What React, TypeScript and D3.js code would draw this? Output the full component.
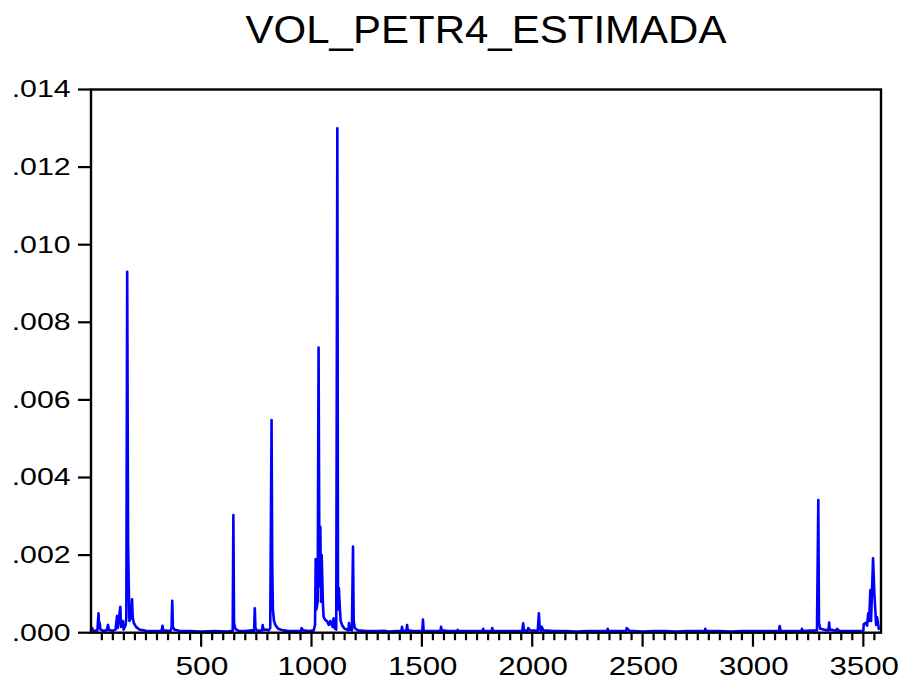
import React from "react";
import * as d3 from "d3";

const TITLE = "VOL_PETR4_ESTIMADA";
const N_OBS = 3580;

const obsIndex: number[] = [
  1, 6, 12, 30, 35, 38, 40, 44, 55, 72, 78, 82, 100, 112, 119, 122, 134, 137, 145, 149,
  158, 161, 165, 169, 172, 175, 183, 187, 190, 195, 205, 220, 250, 300, 320, 325, 328, 360, 366, 369,
  372, 378, 400, 450, 500, 560, 620, 643, 646, 649, 655, 670, 700, 730, 740, 743, 746, 752, 760, 776,
  779, 782, 795, 806, 813, 819, 822, 825, 830, 838, 850, 870, 900, 940, 952, 955, 962, 990, 1010, 1016, 1019,
  1022, 1028, 1032, 1036, 1040, 1043, 1046, 1052, 1055, 1062, 1070, 1078, 1085, 1095, 1100, 1104, 1112, 1117, 1120, 1124,
  1128, 1132, 1140, 1150, 1160, 1167, 1170, 1174, 1183, 1188, 1191, 1196, 1210, 1250, 1300, 1330, 1350, 1380, 1407, 1410, 1413,
  1430, 1433, 1436, 1460, 1502, 1505, 1508, 1540, 1584, 1587, 1590, 1620, 1659, 1662, 1665, 1700, 1740, 1775, 1778, 1781,
  1800, 1816, 1819, 1822, 1830, 1900, 1955, 1959, 1962, 1979, 1982, 1990, 2025, 2030, 2034, 2040, 2043, 2050, 2100, 2150,
  2200, 2250, 2300, 2339, 2342, 2345, 2360, 2420, 2425, 2428, 2440, 2500, 2550, 2600, 2650, 2700, 2781, 2784, 2787, 2800,
  2850, 2900, 2950, 3000, 3050, 3110, 3118, 3121, 3125, 3180, 3219, 3222, 3225, 3240, 3290, 3296, 3299, 3305, 3320, 3342,
  3345, 3348, 3378, 3381, 3390, 3450, 3500, 3502, 3513, 3517, 3522, 3526, 3532, 3535, 3544, 3550, 3558, 3562, 3570, 3573,
];

const volValues: number[] = [
  0.00005, 0.00012, 0.00004, 0.00006, 0.0005, 0.00012, 0.00026, 0.00008, 0.00005, 0.00006, 0.0002, 0.00007, 0.00005, 0.00008, 0.00043, 0.00012, 0.00067, 0.00015, 0.0003, 0.00008,
  0.0002, 0.0004, 0.0093, 0.0023, 0.0012, 0.0003, 0.0004, 0.00086, 0.0004, 0.00025, 0.00015, 0.00008, 0.00005, 0.00004, 0.00004, 0.00018, 0.00006, 0.00004, 0.00012, 0.00082,
  0.00015, 0.00008, 0.00005, 0.00004, 0.00003, 0.00004, 0.00003, 0.00005, 0.00303, 0.00025, 0.0001, 0.00005, 0.00004, 0.00006, 0.00005, 0.00063, 0.00012, 0.00006, 0.00005, 0.00006,
  0.0002, 0.00007, 0.00008, 0.00006, 0.00012, 0.00548, 0.0018, 0.0006, 0.0003, 0.00018, 0.0001, 0.00006, 0.00004, 0.00004, 0.00004, 0.00012, 0.00006, 0.00004, 0.00006, 0.0002, 0.0019,
  0.0006, 0.0008, 0.00735, 0.0012, 0.00273, 0.0008, 0.002, 0.00071, 0.0004, 0.00033, 0.0003, 0.0002, 0.0003, 0.00015, 0.00037, 0.00012, 0.00008, 0.013, 0.0006, 0.00115,
  0.00067, 0.0003, 0.00018, 0.0001, 0.00008, 0.00006, 0.00025, 0.00008, 0.00006, 0.00222, 0.0003, 0.00012, 0.00006, 0.00004, 0.00004, 0.00005, 0.00003, 0.00004, 0.00004, 0.00015, 0.00005,
  0.00005, 0.0002, 0.00006, 0.00004, 0.00004, 0.00034, 0.00005, 0.00004, 0.00004, 0.00015, 0.00006, 0.00004, 0.00004, 0.00007, 0.00004, 0.00004, 0.00004, 0.00004, 0.0001, 0.00004,
  0.00004, 0.00004, 0.00012, 0.00004, 0.00004, 0.00004, 0.00005, 0.00024, 0.00006, 0.00005, 0.00012, 0.00006, 0.00005, 0.0005, 0.0001, 0.00005, 0.00015, 0.00006, 0.00004, 0.00004,
  0.00003, 0.00004, 0.00004, 0.00004, 0.0001, 0.00004, 0.00004, 0.00004, 0.00004, 0.00012, 0.00005, 0.00003, 0.00004, 0.00004, 0.00003, 0.00004, 0.00004, 0.0001, 0.00004, 0.00004,
  0.00004, 0.00003, 0.00004, 0.00004, 0.00004, 0.00004, 0.00004, 0.00017, 0.00005, 0.00004, 0.00004, 0.0001, 0.00004, 0.00005, 0.00006, 0.00342, 0.00025, 0.0001, 0.00008, 0.00006,
  0.00026, 0.00008, 0.00005, 0.0001, 0.00005, 0.00004, 0.00005, 0.00022, 0.00026, 0.00018, 0.0005, 0.0003, 0.0011, 0.0003, 0.00192, 0.001, 0.0002, 0.0004, 0.0001, 0.00008,
];

const yTicks: number[] = [0, 0.002, 0.004, 0.006, 0.008, 0.01, 0.012, 0.014];
const yTickLabels: string[] = [".000", ".002", ".004", ".006", ".008", ".010", ".012", ".014"];
const xMajorTicks: number[] = [500, 1000, 1500, 2000, 2500, 3000, 3500];
const xMinorStep = 50;

export default function App() {
  const W = 903;
  const H = 682;
  const left = 91;
  const right = 881;
  const top = 89.5;
  const bottom = 632.7;

  const x = d3.scaleLinear().domain([1, N_OBS]).range([left, right]);
  const y = d3.scaleLinear().domain([0, 0.014]).range([bottom, top]);

  const pts: [number, number][] = obsIndex.map((d, i) => [d, volValues[i]]);
  const line = d3
    .line<[number, number]>()
    .x((d) => x(d[0]))
    .y((d) => y(d[1]));

  const minorTicks = d3.range(xMinorStep, N_OBS, xMinorStep).filter((t) => t % 500 !== 0);

  const font = "'Liberation Sans', Arial, sans-serif";

  return (
    <svg
      width={W}
      height={H}
      viewBox={`0 0 ${W} ${H}`}
      style={{ position: "absolute", left: 0, top: 0, background: "#fff" }}
    >
      <rect x={0} y={0} width={W} height={H} fill="#fff" />
      <text
        x={(left + right) / 2}
        y={43.3}
        textAnchor="middle"
        fontFamily={font}
        fontSize={39.5}
        textLength={481}
        lengthAdjust="spacingAndGlyphs"
        fill="#000"
      >
        {TITLE}
      </text>

      <clipPath id="plotclip">
        <rect x={left} y={top - 2} width={right - left} height={bottom - top + 2} />
      </clipPath>
      <path
        d={line(pts) || ""}
        fill="none"
        stroke="#0000FF"
        strokeWidth={2.6}
        strokeLinejoin="round"
        clipPath="url(#plotclip)"
      />

      <rect
        x={left}
        y={top}
        width={right - left}
        height={bottom - top}
        fill="none"
        stroke="#000"
        strokeWidth={2.4}
      />

      {yTicks.map((t, i) => (
        <g key={`y${i}`}>
          <line x1={left - 13} x2={left} y1={y(t)} y2={y(t)} stroke="#000" strokeWidth={2.2} />
          <text
            x={70.7}
            y={y(t) + 7.8}
            textAnchor="end"
            fontFamily={font}
            fontSize={23.5}
            textLength={59}
            lengthAdjust="spacingAndGlyphs"
            fill="#000"
          >
            {yTickLabels[i]}
          </text>
        </g>
      ))}

      {minorTicks.map((t) => (
        <line key={`m${t}`} x1={x(t)} x2={x(t)} y1={bottom} y2={bottom + 7.5} stroke="#000" strokeWidth={2.2} />
      ))}
      {xMajorTicks.map((t) => (
        <g key={`x${t}`}>
          <line x1={x(t)} x2={x(t)} y1={bottom} y2={bottom + 14} stroke="#000" strokeWidth={2.2} />
          <text
            x={x(t) + 0.8}
            y={675}
            textAnchor="middle"
            fontFamily={font}
            fontSize={25.5}
            textLength={String(t).length === 3 ? 53 : 69.5}
            lengthAdjust="spacingAndGlyphs"
            fill="#000"
          >
            {String(t)}
          </text>
        </g>
      ))}
    </svg>
  );
}
